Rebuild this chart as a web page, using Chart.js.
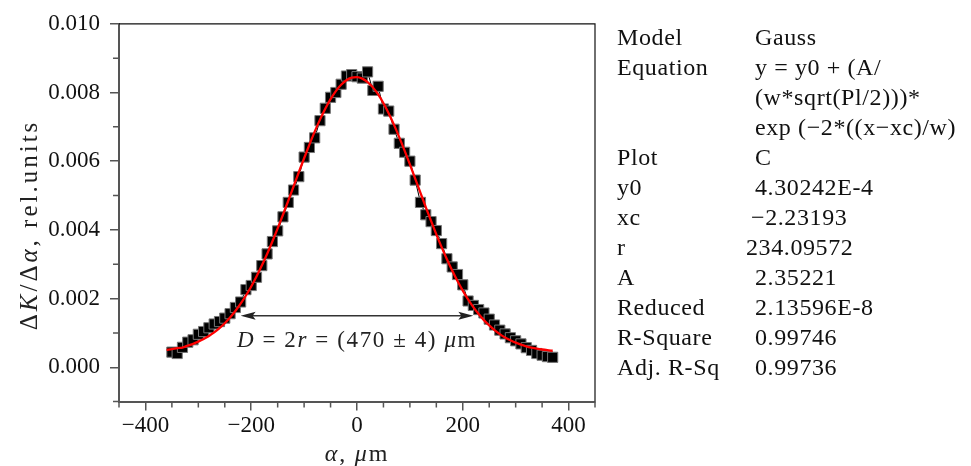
<!DOCTYPE html>
<html>
<head>
<meta charset="utf-8">
<script src="https://cdn.jsdelivr.net/npm/chart.js@4.4.0/dist/chart.umd.min.js"></script>
<style>
    html, body { margin: 0; padding: 0; background: #fff; }
    #wrap { position: relative; width: 971px; height: 466px; }
    #fitTable {
        position: absolute; left: 617px; top: 22px;
        font-family: "Liberation Serif", serif; font-size: 24px; letter-spacing: 0.6px; color: #111;
    }
    .row { position: relative; height: 30px; line-height: 30px; white-space: nowrap; }
    .row .val { position: absolute; left: 138px; top: 0; }
</style>
</head>
<body>
<div id="wrap">
    <canvas id="gaussChart" width="971" height="466"></canvas>
    <div id="fitTable"></div>
</div>
<script>
// Measured points: alpha (um) and dK/dalpha (rel. units)
const alphaUm = [-350, -340, -330, -320, -310, -300, -290, -280, -270, -260, -250, -240, -230, -220, -210, -200,
    -190, -180, -170, -160, -150, -140, -130, -120, -110, -100, -90, -80, -70, -60, -50, -40, -30, -20, -10, 0,
    10, 20, 30, 40, 50, 60, 70, 80, 90, 100, 110, 120, 130, 140, 150, 160, 170, 180, 190, 200,
    210, 220, 230, 240, 250, 260, 270, 280, 290, 300, 310, 320, 330, 340, 350, 360, 370];
const dKdAlpha = [0.00044, 0.00040, 0.00058, 0.00073, 0.00080, 0.00096, 0.00104, 0.00115, 0.00126, 0.00133, 0.00143,
    0.00156, 0.00174, 0.00190, 0.00226, 0.00238, 0.00262, 0.00296, 0.00330, 0.00366, 0.00397, 0.00438, 0.00480,
    0.00516, 0.00555, 0.00612, 0.00640, 0.00668, 0.00718, 0.00754, 0.00786, 0.00800, 0.00824, 0.00848, 0.00852,
    0.00846, 0.00842, 0.00860, 0.00806, 0.00818, 0.00752, 0.00746, 0.00693, 0.00652, 0.00626, 0.00600, 0.00545,
    0.00480, 0.00444, 0.00424, 0.00398, 0.00360, 0.00316, 0.00292, 0.00270, 0.00240, 0.00193, 0.00180, 0.00168,
    0.00158, 0.00140, 0.00123, 0.00108, 0.00097, 0.00086, 0.00077, 0.00068, 0.00057, 0.00049, 0.00040, 0.00035,
    0.00031, 0.00029];

// Gauss fit curve
const fitAlpha = [-360, -350, -340, -330, -320, -310, -300, -290, -280, -270, -260, -250, -240, -230, -220, -210,
    -200, -190, -180, -170, -160, -150, -140, -130, -120, -110, -100, -90, -80, -70, -60, -50, -40, -30, -20, -10,
    0, 10, 20, 30, 40, 50, 60, 70, 80, 90, 100, 110, 120, 130, 140, 150, 160, 170, 180, 190, 200,
    210, 220, 230, 240, 250, 260, 270, 280, 290, 300, 310, 320, 330, 340, 350, 360, 370];
const fitValues = [0.000505, 0.000527, 0.000555, 0.000574, 0.000631, 0.000683, 0.000745, 0.000820, 0.000910,
    0.001016, 0.001140, 0.001283, 0.001448, 0.001637, 0.001850, 0.002089, 0.002353, 0.002644, 0.002960, 0.003300,
    0.003663, 0.004043, 0.004440, 0.004848, 0.005263, 0.005677, 0.006086, 0.006482, 0.006860, 0.007210, 0.007528,
    0.007806, 0.008041, 0.008225, 0.008356, 0.008430, 0.008446, 0.008404, 0.008304, 0.008149, 0.007942, 0.007687,
    0.007390, 0.007057, 0.006694, 0.006307, 0.005905, 0.005493, 0.005078, 0.004665, 0.004261, 0.003871, 0.003498,
    0.003145, 0.002817, 0.002512, 0.002233, 0.001979, 0.001752, 0.001550, 0.001372, 0.001217, 0.001082, 0.000966,
    0.000868, 0.000785, 0.000716, 0.000658, 0.000611, 0.000573, 0.000542, 0.000517, 0.000497, 0.000481];

// Axes
const xTickValues = [-400, -200, 0, 200, 400];
const xMinorTicks = [-450, -350, -300, -250, -150, -100, -50, 50, 100, 150, 250, 300, 350, 450];
const yTickValues = [0, 0.002, 0.004, 0.006, 0.008, 0.010];
const yMinorTicks = [-0.001, 0.001, 0.003, 0.005, 0.007, 0.009];

// FWHM arrow (from, to) and its height
const arrowAlpha = [-220, 220];
const arrowLevel = 0.0015;

// Fit report
const fitLabels = ['Model', 'Equation', '', '', 'Plot', 'y0', 'xc', 'r', 'A', 'Reduced', 'R-Square', 'Adj. R-Sq'];
const fitReport = ['Gauss', 'y = y0 + (A/', '(w*sqrt(Pl/2)))*', 'exp (\u22122*((x\u2212xc)/w)', 'C', '4.30242E-4',
    '\u22122.23193', '234.09572', '2.35221', '2.13596E-8', '0.99746', '0.99736'];

const SERIF = '"Liberation Serif", "Times New Roman", serif';

// draw text made of [string, italic] pieces, centred on x
function drawRich(ctx, parts, x, y, size, spacing) {
    ctx.letterSpacing = spacing + 'px';
    const fonts = parts.map(p => (p[1] ? 'italic ' : '') + size + 'px ' + SERIF);
    let total = 0;
    const widths = parts.map((p, i) => {
        ctx.font = fonts[i];
        const w = ctx.measureText(p[0]).width;
        total += w;
        return w;
    });
    let cx = x - total / 2;
    ctx.textAlign = 'left';
    parts.forEach((p, i) => {
        ctx.font = fonts[i];
        ctx.fillText(p[0], cx, y);
        cx += widths[i];
    });
    ctx.letterSpacing = '0px';
}

const extras = {
    id: 'extras',
    afterDraw(chart) {
        const { ctx, chartArea: a, scales: { x, y } } = chart;
        ctx.save();

        // top / right frame
        ctx.strokeStyle = '#111';
        ctx.lineWidth = 1.2;
        ctx.beginPath();
        ctx.moveTo(a.left, a.top);
        ctx.lineTo(a.right, a.top);
        ctx.lineTo(a.right, a.bottom);
        ctx.stroke();

        // minor ticks
        ctx.strokeStyle = '#555';
        ctx.lineWidth = 1.5;
        ctx.beginPath();
        xMinorTicks.forEach(v => {
            const px = x.getPixelForValue(v);
            ctx.moveTo(px, a.bottom);
            ctx.lineTo(px, a.bottom + 6);
        });
        yMinorTicks.forEach(v => {
            const py = y.getPixelForValue(v);
            ctx.moveTo(a.left - 6, py);
            ctx.lineTo(a.left, py);
        });
        ctx.stroke();

        // double arrow
        const x1 = x.getPixelForValue(arrowAlpha[0]);
        const x2 = x.getPixelForValue(arrowAlpha[1]);
        const ay = y.getPixelForValue(arrowLevel);
        ctx.strokeStyle = '#333';
        ctx.fillStyle = '#222';
        ctx.lineWidth = 1.5;
        ctx.beginPath();
        ctx.moveTo(x1 + 6, ay);
        ctx.lineTo(x2 - 6, ay);
        ctx.stroke();
        ctx.beginPath();
        ctx.moveTo(x1, ay); ctx.lineTo(x1 + 15, ay - 4); ctx.lineTo(x1 + 12, ay); ctx.lineTo(x1 + 15, ay + 4);
        ctx.closePath();
        ctx.moveTo(x2, ay); ctx.lineTo(x2 - 15, ay - 4); ctx.lineTo(x2 - 12, ay); ctx.lineTo(x2 - 15, ay + 4);
        ctx.closePath();
        ctx.fill();

        ctx.fillStyle = '#222';
        ctx.textBaseline = 'alphabetic';
        drawRich(ctx, [['D', true], [' = 2', false], ['r', true], [' = (470 \u00b1 4) ', false], ['\u03bc', true], ['m', false]],
            x.getPixelForValue(0), ay + 31, 23, 1.6);

        // axis titles
        ctx.textBaseline = 'middle';
        drawRich(ctx, [['\u03b1', true], [', ', false], ['\u03bc', true], ['m', false]],
            (a.left + a.right) / 2, 455, 24, 1.8);
        ctx.translate(30, 225);
        ctx.rotate(-Math.PI / 2);
        drawRich(ctx, [['\u0394', false], ['K', true], ['/\u0394', false], ['\u03b1', true], [', rel.units', false]],
            0, 0, 25, 3);
        ctx.restore();
    }
};

document.addEventListener('DOMContentLoaded', function() {

    // fit report table
    const table = document.getElementById('fitTable');
    const valueShift = { 6: -4, 7: -9 };
    fitLabels.forEach((label, i) => {
        const row = document.createElement('div');
        row.className = 'row';
        row.innerHTML = '<span class="lab"></span><span class="val"></span>';
        row.querySelector('.lab').textContent = label || '\u00a0';
        const val = row.querySelector('.val');
        val.textContent = fitReport[i];
        if (valueShift[i]) val.style.left = (138 + valueShift[i]) + 'px';
        table.appendChild(row);
    });

    const ctx = document.getElementById('gaussChart');
    new Chart(ctx.getContext('2d'), {
        type: 'scatter',
        data: {
            datasets: [{
                label: 'Fit',
                data: fitAlpha.map((a, i) => ({ x: a, y: fitValues[i] })),
                showLine: true,
                borderColor: '#ff0000',
                borderWidth: 2.3,
                pointRadius: 0,
                cubicInterpolationMode: 'monotone',
                order: 1
            }, {
                label: 'C',
                data: alphaUm.map((a, i) => ({ x: a, y: dKdAlpha[i] })),
                showLine: true,
                borderColor: '#000',
                borderWidth: 1,
                pointStyle: 'rect',
                pointRadius: 7.2,
                pointBackgroundColor: '#000',
                pointBorderColor: '#777',
                pointBorderWidth: 1,
                order: 2
            }]
        },
        options: {
            responsive: false,
            animation: false,
            devicePixelRatio: 1,
            layout: { padding: { left: 0, top: 17, right: 376, bottom: 0 } },
            plugins: {
                legend: { display: false },
                tooltip: { enabled: false }
            },
            scales: {
                x: {
                    type: 'linear',
                    min: -450,
                    max: 450,
                    afterBuildTicks: s => { s.ticks = xTickValues.map(v => ({ value: v })); },
                    afterFit: s => { s.height = 64.4; },
                    border: { display: true, color: '#555', width: 2 },
                    grid: { drawOnChartArea: false, tickLength: 9, color: '#555', lineWidth: 1.5 },
                    ticks: {
                        padding: 2,
                        color: '#111',
                        font: { family: SERIF, size: 23 },
                        callback: v => (v < 0 ? '\u2212' + (-v) : String(v))
                    }
                },
                y: {
                    type: 'linear',
                    min: -0.001,
                    max: 0.010,
                    afterBuildTicks: s => { s.ticks = yTickValues.map(v => ({ value: v })); },
                    afterFit: s => { s.width = 119; },
                    border: { display: true, color: '#555', width: 2 },
                    grid: { drawOnChartArea: false, tickLength: 9, color: '#555', lineWidth: 1.5 },
                    ticks: {
                        padding: 10,
                        color: '#111',
                        font: { family: SERIF, size: 23 },
                        callback: v => v.toFixed(3)
                    }
                }
            }
        },
        plugins: [extras]
    });
});
</script>
</body>
</html>
